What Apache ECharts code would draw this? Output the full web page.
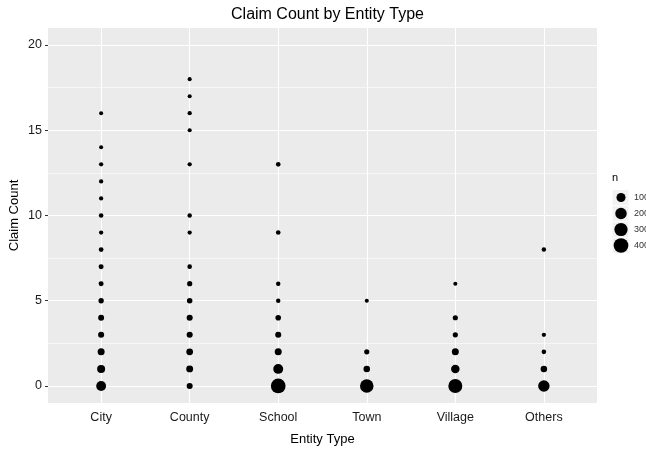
<!DOCTYPE html>
<html><head><meta charset="utf-8">
<script src="https://cdn.jsdelivr.net/npm/echarts@6/dist/echarts.min.js"></script>
<style>html,body{margin:0;padding:0;background:#fff}#c{width:646px;height:452px}</style>
</head><body><div id="c"></div>
<script>
const categories = ['City','County','School','Town','Village','Others'];
const cityClaims = [0,1,2,3,4,5,6,7,8,9,10,11,12,13,14,16];
const cityN      = [130,65,40,22,20,12,8,8,6,3,5,3,3,3,2,2];
const countyClaims = [0,1,2,3,4,5,6,7,9,10,13,15,16,17,18];
const countyN      = [22,38,35,22,22,14,10,5,3,4,3,2,3,2,2];
const schoolClaims = [0,1,2,3,4,5,6,9,13];
const schoolN      = [400,130,40,22,15,4,4,5,5];
const townClaims = [0,1,2,5];
const townN      = [320,30,10,2];
const villageClaims = [0,1,2,3,4,6];
const villageN      = [350,80,40,10,10,2];
const othersClaims = [0,1,2,3,8];
const othersN      = [200,30,5,3,4];
const legendBreaks = [100,200,300,400];
const yTicks = [0,5,10,15,20];
const yMinorTicks = [2.5,7.5,12.5,17.5];

const claimsByCat = [cityClaims, countyClaims, schoolClaims, townClaims, villageClaims, othersClaims];
const nByCat = [cityN, countyN, schoolN, townN, villageN, othersN];

function sizeOf(n){ return 3.5 + 11.5*Math.sqrt(Math.max(0,(n-1))/419); }

const data = [];
claimsByCat.forEach((cl, i) => cl.forEach((c, j) => data.push([i+1, c, nByCat[i][j]])));

const FONT = '"Liberation Sans", Arial, Helvetica, sans-serif';
const chart = echarts.init(document.getElementById('c'), null, {renderer:'canvas'});

const legendX = 612, legendTop = 189.5, keyW = 17, keyH = 16;
const graphics = [{
  type:'text', left: 612, top: 172,
  style:{text:'n', font:'11px '+FONT, fill:'#000'}
}];
legendBreaks.forEach((b, i) => {
  const cy = legendTop + i*keyH + keyH/2;
  graphics.push({type:'rect', shape:{x:legendX, y:legendTop+i*keyH, width:keyW, height:keyH},
    style:{fill:'#F2F2F2', stroke:'#fff', lineWidth:1}});
  const r = sizeOf(b)/2;
  graphics.push({type:'circle', shape:{cx:legendX+keyW/2+0.5, cy:cy, r:r}, style:{fill:'#000'}});
  graphics.push({type:'text', x: legendX+keyW+5, y: cy,
    style:{text:String(b), font:'9px '+FONT, fill:'#333', verticalAlign:'middle', align:'left'}});
});

chart.setOption({
  animation:false,
  backgroundColor:'#fff',
  textStyle:{fontFamily:FONT},
  title:{text:'Claim Count by Entity Type', left:322.5, top:2, textAlign:'center',
    textStyle:{fontSize:16, fontWeight:'normal', color:'#000', fontFamily:FONT}},
  grid:{left:48, right:49, top:28, bottom:49, show:true, backgroundColor:'#EBEBEB', borderWidth:0,
    containLabel:false, outerBoundsMode:'none'},
  xAxis:{type:'value', min:0.4, max:6.6,
    name:'Entity Type', nameLocation:'middle', nameGap:30, nameMoveOverlap:false,
    nameTextStyle:{fontSize:13, color:'#000', fontFamily:FONT},
    axisLine:{show:false},
    axisTick:{show:true, customValues:[1,2,3,4,5,6], length:3, lineStyle:{color:'#333', width:1}},
    axisLabel:{customValues:[1,2,3,4,5,6], formatter:v=>categories[Math.round(v)-1], fontSize:12.5, color:'#1a1a1a', margin:8},
    splitLine:{show:true, lineStyle:{color:'#fff', width:1.1}}},
  yAxis:[{type:'value', min:-1, max:21,
    name:'Claim Count', nameLocation:'middle', nameGap:27, nameRotate:90, nameMoveOverlap:false,
    nameTextStyle:{fontSize:13, color:'#000', fontFamily:FONT},
    axisLine:{show:false},
    axisTick:{show:true, customValues:yTicks, length:3, lineStyle:{color:'#333', width:1}},
    axisLabel:{customValues:yTicks, fontSize:12.5, color:'#1a1a1a', margin:6},
    splitLine:{show:true, lineStyle:{color:'#fff', width:1.1}}},
   {type:'value', min:-1, max:21, position:'left',
    axisLine:{show:false}, axisLabel:{show:false},
    axisTick:{show:false, customValues:yMinorTicks},
    splitLine:{show:true, lineStyle:{color:'#fff', width:0.55}}}],
  graphic: graphics,
  series:[{type:'scatter', xAxisIndex:0, yAxisIndex:0, data:data,
    symbol:'circle', symbolSize:(v)=>sizeOf(v[2]),
    itemStyle:{color:'#000', opacity:1}, z:5}]
});
</script></body></html>
